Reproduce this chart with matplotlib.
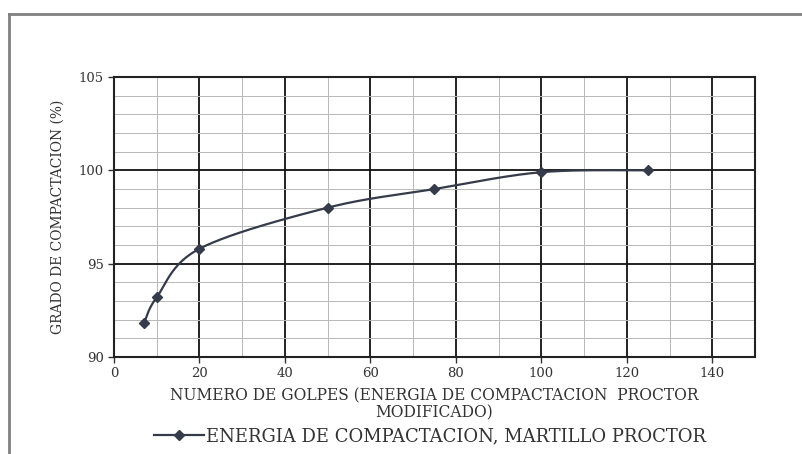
import numpy as np
import matplotlib
matplotlib.use("Agg")
import matplotlib.pyplot as plt
from matplotlib.lines import Line2D
from matplotlib.ticker import MultipleLocator

plt.rcParams["font.family"] = ["DejaVu Serif"]

# data
golpes = [7, 10, 20, 50, 75, 100, 125]
grado = [91.8, 93.2, 95.8, 98.0, 99.0, 99.9, 100.0]
x_ticks = [0, 20, 40, 60, 80, 100, 120, 140]
y_ticks = [90, 95, 100, 105]
x_label = "NUMERO DE GOLPES (ENERGIA DE COMPACTACION  PROCTOR\nMODIFICADO)"
y_label = "GRADO DE COMPACTACION (%)"
serie = "ENERGIA DE COMPACTACION, MARTILLO PROCTOR"

LINE_COLOR = "#353b4a"
XMIN, XMAX, YMIN, YMAX = 0, 150, 90, 105


def smooth_curve(xs, ys, sx, sy, n=40):
    """Excel-like smoothed line (cubic Bezier through the points), done in pixel space."""
    p = np.column_stack([np.asarray(xs, float) * sx, np.asarray(ys, float) * sy])
    ext = np.vstack([p[0], p, p[-1]])
    out = []
    t = np.linspace(0, 1, n)[:, None]
    for i in range(len(p) - 1):
        p0, p1 = ext[i + 1], ext[i + 2]
        c1 = p0 + (ext[i + 2] - ext[i]) / 6.0
        c2 = p1 - (ext[i + 3] - ext[i + 1]) / 6.0
        seg = ((1 - t) ** 3) * p0 + 3 * ((1 - t) ** 2) * t * c1 + 3 * (1 - t) * t ** 2 * c2 + t ** 3 * p1
        out.append(seg)
    out = np.vstack(out)
    return out[:, 0] / sx, out[:, 1] / sy


fig = plt.figure(figsize=(8.03, 4.54), dpi=100)
ax = fig.add_axes([114 / 803, 1 - 357 / 454, (755 - 114) / 803, (357 - 77) / 454])

ax.set_xlim(XMIN, XMAX)
ax.set_ylim(YMIN, YMAX)
ax.set_xticks(x_ticks)
ax.set_yticks(y_ticks)
ax.xaxis.set_minor_locator(MultipleLocator(10))
ax.yaxis.set_minor_locator(MultipleLocator(1))
ax.grid(which="major", color="#111111", lw=1.3)
ax.grid(which="minor", color="#b8b8b8", lw=0.7)
ax.set_axisbelow(True)
for s in ax.spines.values():
    s.set_linewidth(1.5)
    s.set_color("#222222")
ax.tick_params(which="major", length=4, width=1, labelsize=9.5, colors="#333333")
ax.tick_params(which="minor", length=0)

ax_w = (755 - 114)
ax_h = (357 - 77)
cx, cy = smooth_curve(golpes, grado, ax_w / (XMAX - XMIN), ax_h / (YMAX - YMIN))
ax.plot(cx, cy, color=LINE_COLOR, lw=1.6, zorder=3)
ax.plot(golpes, grado, ls="none", marker="D", ms=5, color=LINE_COLOR, zorder=4)

ax.set_xlabel(x_label, fontsize=11.2, color="#333333", labelpad=5, linespacing=1.0)
ax.set_ylabel(y_label, fontsize=10, color="#333333", labelpad=10)

handle = Line2D([], [], color=LINE_COLOR, lw=1.6, marker="D", ms=5)
fig.legend([handle], [serie], loc="center", bbox_to_anchor=(430 / 803, 1 - 436 / 454),
           frameon=False, fontsize=13, handlelength=2.8, handletextpad=0.1,
           labelcolor="#333333")

# outer frame (top and left edges visible in the reference)
fig.add_artist(Line2D([9 / 803, 801 / 803], [1 - 14 / 454, 1 - 14 / 454],
                      color="#808080", lw=2, transform=fig.transFigure))
fig.add_artist(Line2D([9 / 803, 9 / 803], [1 - 14 / 454, 0],
                      color="#808080", lw=2, transform=fig.transFigure))

fig.savefig("out.png", dpi=100)
